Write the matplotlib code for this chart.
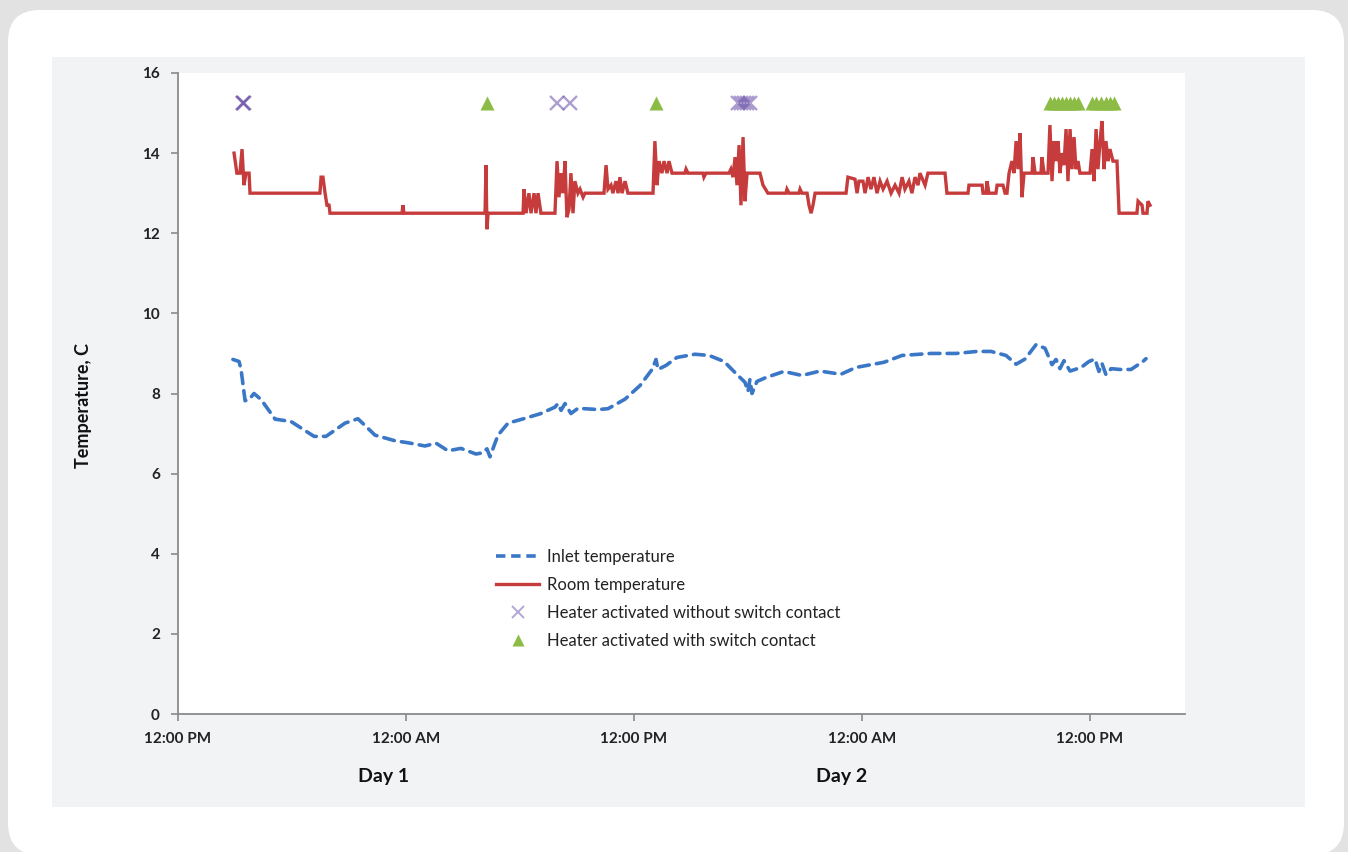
import matplotlib
matplotlib.use("Agg")
import matplotlib.pyplot as plt
from matplotlib.patches import FancyBboxPatch, Rectangle
from matplotlib.transforms import IdentityTransform
from matplotlib.lines import Line2D

plt.rcParams['font.family'] = ['Lato', 'DejaVu Sans']

# ---------------- data (hours after 12:00 PM of the start day) ----------------
room_t = [2.95, 3.10, 3.26, 3.37, 3.47, 3.58, 3.74, 3.79, 7.47, 7.53, 7.63, 7.74, 7.84, 7.95, 8.00,
          11.79, 11.84, 11.89, 16.16, 16.21, 16.26, 16.32, 18.16, 18.21, 18.32, 18.47, 18.58, 18.74,
          18.84, 18.95, 19.10, 19.84, 19.95, 20.05, 20.16, 20.26, 20.37, 20.47, 20.58, 20.68, 20.79,
          20.89, 21.05, 21.16, 21.32, 21.42, 22.42, 22.53, 22.63, 22.79, 22.89, 23.05, 23.16, 23.26,
          23.37, 23.53, 23.68, 24.16, 25.00, 25.10, 25.21, 25.32, 25.47, 25.58, 25.74, 25.84, 26.00,
          26.68, 26.74, 26.84, 27.63, 27.68, 27.79, 29.00, 29.10, 29.21, 29.32, 29.42, 29.53, 29.63,
          29.74, 29.84, 29.95, 30.21, 30.47, 30.63, 30.79, 31.05, 32.00, 32.05, 32.16, 32.68, 32.74,
          32.84, 33.11, 33.21, 33.32, 33.42, 33.53, 35.16, 35.26, 35.63, 35.74, 35.84, 36.05, 36.16,
          36.32, 36.47, 36.63, 36.79, 36.95, 37.11, 37.32, 37.53, 37.74, 37.95, 38.11, 38.26, 38.47,
          38.63, 38.79, 38.95, 39.05, 39.32, 39.47, 40.37, 40.47, 41.58, 41.63, 42.32, 42.37, 42.53,
          42.58, 42.68, 43.05, 43.11, 43.42, 43.53, 43.63, 43.74, 43.89, 44.00, 44.11, 44.21, 44.32,
          44.42, 44.53, 44.95, 45.00, 45.11, 45.42, 45.47, 45.58, 45.79, 45.89, 46.00, 46.11, 46.21,
          46.32, 46.42, 46.53, 46.63, 46.74, 46.84, 46.95, 47.05, 47.16, 47.26, 47.37, 47.47, 48.00,
          48.11, 48.21, 48.32, 48.42, 48.53, 48.63, 48.74, 48.84, 48.95, 49.05, 49.21, 49.42, 49.53,
          50.47, 50.53, 50.74, 50.79, 51.00, 51.05, 51.16]
room_v = [14.0, 13.5, 13.5, 14.1, 13.2, 13.5, 13.5, 13.0, 13.0, 13.4, 13.4, 13.0, 12.7, 12.7, 12.5,
          12.5, 12.7, 12.5, 12.5, 13.7, 12.1, 12.5, 12.5, 13.1, 12.5, 13.0, 12.5, 13.0,
          12.5, 13.0, 12.5, 12.5, 13.8, 12.9, 13.5, 13.0, 13.8, 12.4, 12.6, 13.5, 12.5,
          13.3, 13.0, 13.1, 12.9, 13.0, 13.0, 13.7, 13.1, 13.2, 13.0, 13.3, 13.0, 13.4,
          13.0, 13.3, 13.0, 13.0, 13.0, 14.3, 13.2, 13.8, 13.5, 13.8, 13.5, 13.8, 13.5,
          13.5, 13.6, 13.5, 13.5, 13.4, 13.5, 13.5, 13.6, 13.4, 13.9, 13.2, 14.2, 12.7,
          14.4, 12.8, 13.5, 13.5, 13.5, 13.5, 13.2, 13.0, 13.0, 13.1, 13.0, 13.0, 13.1,
          13.0, 13.0, 12.7, 12.5, 12.7, 13.0, 13.0, 13.4, 13.35, 13.0, 13.3, 13.3, 13.0,
          13.4, 13.1, 13.4, 13.0, 13.3, 13.1, 13.3, 13.0, 13.2, 13.0, 13.4, 13.1, 13.3,
          13.0, 13.4, 13.2, 13.5, 13.2, 13.5, 13.5, 13.0, 13.0, 13.2, 13.2, 13.0, 13.0,
          13.3, 13.0, 13.0, 13.2, 13.2, 13.0, 13.0, 13.5, 13.8, 13.5, 14.3, 13.6, 14.5,
          12.9, 13.5, 13.5, 13.9, 13.5, 13.5, 13.9, 13.5, 13.5, 14.7, 13.3, 14.3, 13.8,
          14.3, 13.5, 14.0, 13.7, 14.6, 13.3, 14.6, 13.6, 14.4, 13.6, 13.8, 13.5, 13.5,
          14.1, 13.3, 14.6, 13.6, 14.3, 14.8, 13.6, 14.3, 13.8, 14.1, 13.8, 13.8, 12.5,
          12.5, 12.8, 12.7, 12.5, 12.5, 12.8, 12.7]

inlet_t = [2.89, 3.21, 3.32, 3.53, 3.74, 4.00, 4.37, 5.11, 5.95, 7.16, 7.79, 8.79, 9.47, 10.37,
           11.42, 12.11, 13.00, 13.58, 14.21, 14.89, 15.68, 16.05, 16.26, 16.42, 16.84, 17.37,
           18.26, 19.10, 19.84, 20.00, 20.16, 20.37, 20.68, 21.05, 22.11, 22.63, 23.53, 24.32,
           24.95, 25.16, 25.26, 25.68, 26.26, 27.21, 27.95, 28.74, 29.26, 29.84, 30.00, 30.10,
           30.21, 30.47, 30.95, 31.89, 32.84, 33.79, 34.89, 35.68, 37.16, 38.11, 39.63, 40.95,
           42.05, 42.79, 43.58, 44.11, 44.58, 45.16, 45.63, 46.00, 46.21, 46.42, 46.63, 46.95,
           47.53, 47.95, 48.26, 48.47, 48.63, 48.84, 49.11, 49.58, 50.16, 50.79, 50.95]
inlet_v = [8.85, 8.80, 8.60, 7.82, 7.85, 8.00, 7.85, 7.36, 7.30, 6.93, 6.93, 7.26, 7.37, 6.96,
           6.82, 6.77, 6.69, 6.76, 6.57, 6.63, 6.49, 6.52, 6.62, 6.42, 6.96, 7.26,
           7.38, 7.50, 7.66, 7.75, 7.58, 7.75, 7.50, 7.63, 7.60, 7.62, 7.86, 8.20,
           8.60, 8.85, 8.60, 8.70, 8.90, 8.98, 8.95, 8.80, 8.55, 8.28, 8.05, 8.35,
           8.00, 8.30, 8.40, 8.55, 8.45, 8.56, 8.48, 8.65, 8.78, 8.95, 9.00, 9.00,
           9.05, 9.05, 8.95, 8.73, 8.86, 9.22, 9.13, 8.72, 8.85, 8.62, 8.82, 8.56,
           8.65, 8.80, 8.86, 8.55, 8.75, 8.47, 8.62, 8.60, 8.60, 8.80, 8.87]

no_contact_t = [3.40, 3.42, 3.45, 19.95, 20.63, 29.47, 29.63, 29.79, 29.95, 30.10]
no_contact_v = [15.25] * len(no_contact_t)
contact_t = [16.26, 25.16, 45.89, 46.11, 46.32, 46.53, 46.74, 46.95, 47.16, 47.37,
             48.11, 48.32, 48.58, 48.84, 49.05, 49.26]
contact_v = [15.25] * len(contact_t)

tick_hours = [0, 12, 24, 36, 48]
tick_labels = ['12:00 PM', '12:00 AM', '12:00 PM', '12:00 AM', '12:00 PM']
day_labels = ['Day 1', 'Day 2']
day_hours = [10.8, 34.95]
series_labels = ['Inlet temperature', 'Room temperature',
                 'Heater activated without switch contact', 'Heater activated with switch contact']

# ---------------- figure ----------------
W, H = 1348, 852
fig = plt.figure(figsize=(W / 100, H / 100), dpi=100)
fig.patch.set_facecolor('#e2e2e2')

ident = IdentityTransform()
card = FancyBboxPatch((8, -3), 1336, 845, boxstyle="round,pad=0,rounding_size=32",
                      transform=ident, facecolor='white', edgecolor='none', zorder=-10)
fig.patches.append(card)
panel = Rectangle((52, H - 807), 1253, 750, transform=ident, facecolor='#f2f3f5',
                  edgecolor='none', zorder=-9)
fig.patches.append(panel)

ax = fig.add_axes([178 / W, (H - 714) / H, (1185 - 178) / W, (714 - 73) / H])
ax.set_facecolor('white')

red = '#c63b3b'
blue = '#3a77c6'
purple = '#6a50a8'
green = '#8cbc45'

ax.plot(inlet_t, inlet_v, color=blue, lw=2.6, dashes=(3.0, 2.0), dash_capstyle='round',
        solid_joinstyle='round')
ax.plot(room_t, room_v, color=red, lw=2.4, solid_joinstyle='miter')
ax.plot(no_contact_t, no_contact_v, ls='none', marker='x', ms=10, mew=1.7,
        color=purple, alpha=0.55)
ax.plot(contact_t, contact_v, ls='none', marker='^', ms=10.5, color=green, mec='none')

ax.set_xlim(0, 53)
ax.set_ylim(0, 16)
ax.set_xticks(tick_hours)
ax.set_xticklabels(tick_labels)
ax.set_yticks(range(0, 17, 2))

for s in ['top', 'right']:
    ax.spines[s].set_visible(False)
for s in ['left', 'bottom']:
    ax.spines[s].set_color('#8a8a8a')
    ax.spines[s].set_linewidth(1.3)
ax.tick_params(axis='both', direction='out', length=5, width=1.2, color='#8a8a8a',
               labelsize=11, labelcolor='#222222')
ax.tick_params(axis='y', pad=8)
ax.tick_params(axis='x', pad=8)
for lab in ax.get_xticklabels() + ax.get_yticklabels():
    lab.set_fontweight('bold')

for lbl, h in zip(day_labels, day_hours):
    ax.text(h, -1.55, lbl, ha='center', va='center', fontsize=14, fontweight='bold',
            color='#111111')

fig.text(83 / W, (H - 405) / H, 'Temperature, C', rotation=90, ha='center', va='center',
         fontsize=13, fontweight='bold', color='#111111')

handles = [
    Line2D([], [], color=blue, lw=2.6, dashes=(2.6, 1.6)),
    Line2D([], [], color=red, lw=2.4),
    Line2D([], [], ls='none', marker='x', ms=9, mew=1.4, color=purple, alpha=0.5),
    Line2D([], [], ls='none', marker='^', ms=9, color=green, mec='none'),
]
leg = fig.legend(handles, series_labels, loc='upper left',
                 bbox_to_anchor=(496 / W, (H - 549) / H), frameon=False,
                 fontsize=12, handlelength=2.6, handletextpad=0.45, labelspacing=0.72,
                 borderpad=0, borderaxespad=0)
for t in leg.get_texts():
    t.set_color('#222222')

fig.savefig('out.png', dpi=100, facecolor=fig.get_facecolor())
